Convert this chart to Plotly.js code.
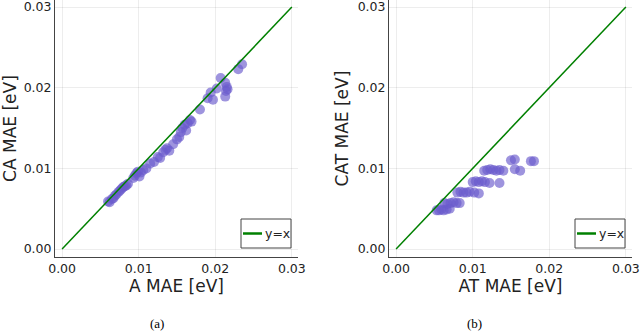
<!DOCTYPE html>
<html>
<head>
<meta charset="utf-8">
<script src="https://cdn.plot.ly/plotly-3.0.1.min.js"></script>
<style>
  html, body { margin: 0; padding: 0; background: #fff; }
  #chart { width: 640px; height: 333px; }
</style>
</head>
<body>
<div id="chart"></div>
<script>
// panel (a): A MAE vs CA MAE
const aX = [0.0060, 0.0062, 0.0065, 0.0067, 0.0069, 0.0071, 0.0074, 0.0076, 0.0078, 0.0080,
            0.0082, 0.0084, 0.0086, 0.0093, 0.0095, 0.0097, 0.0099, 0.0101, 0.0103, 0.0106,
            0.0110, 0.0115, 0.0120, 0.0125, 0.0128, 0.0132, 0.0135, 0.0137, 0.0140, 0.0145,
            0.0150, 0.0153, 0.0155, 0.0157, 0.0160, 0.0162, 0.0164, 0.0167, 0.0169, 0.0180,
            0.0190, 0.0194, 0.0197, 0.0202, 0.0207, 0.0213, 0.0215, 0.0214, 0.0216, 0.0213,
            0.0230, 0.0235];
const caY = [0.0059, 0.0058, 0.0062, 0.0063, 0.0066, 0.0068, 0.0071, 0.0073, 0.0075, 0.0077,
             0.0078, 0.0079, 0.0081, 0.0088, 0.0091, 0.0094, 0.0096, 0.0090, 0.0095, 0.0098,
             0.0100, 0.0106, 0.0108, 0.0114, 0.0113, 0.0120, 0.0123, 0.0125, 0.0122, 0.0130,
             0.0136, 0.0139, 0.0145, 0.0150, 0.0154, 0.0147, 0.0156, 0.0160, 0.0158, 0.0173,
             0.0187, 0.0194, 0.0185, 0.0199, 0.0212, 0.0206, 0.0201, 0.0196, 0.0198, 0.0189,
             0.0223, 0.0229];

// panel (b): AT MAE vs CAT MAE
const atX = [0.0053, 0.0056, 0.0059, 0.0062, 0.0066, 0.0070,
             0.0063, 0.0067, 0.0071, 0.0075, 0.0079, 0.0083,
             0.0080, 0.0084, 0.0088, 0.0092, 0.0096, 0.0102, 0.0108,
             0.0100, 0.0104, 0.0108, 0.0112, 0.0116, 0.0122, 0.0135,
             0.0115, 0.0119, 0.0123, 0.0127, 0.0131, 0.0135, 0.0140, 0.0155, 0.0162,
             0.0150, 0.0155, 0.0176, 0.0180];
const catY = [0.0048, 0.0048, 0.0049, 0.0048, 0.0049, 0.0050,
              0.0057, 0.0056, 0.0057, 0.0058, 0.0057, 0.0057,
              0.0070, 0.0071, 0.0070, 0.0070, 0.0071, 0.0070, 0.0069,
              0.0083, 0.0084, 0.0083, 0.0084, 0.0083, 0.0082, 0.0082,
              0.0097, 0.0098, 0.0099, 0.0098, 0.0097, 0.0098, 0.0097, 0.0099, 0.0097,
              0.0110, 0.0111, 0.0109, 0.0109];

const diag = [0, 0.03];
const tickVals = [0, 0.01, 0.02, 0.03];
const tickText = ['0.00', '0.01', '0.02', '0.03'];

const dotColor = 'rgba(106, 90, 205, 0.65)';
const lineColor = 'rgb(0, 128, 0)';

var data = [
    {x: aX, y: caY, type: 'scatter', mode: 'markers', xaxis: 'x', yaxis: 'y',
     marker: {size: 10, color: dotColor}, showlegend: false},
    {x: diag, y: diag, type: 'scatter', mode: 'lines', xaxis: 'x', yaxis: 'y',
     line: {color: lineColor, width: 1.5}, name: 'y=x', showlegend: false},
    {x: atX, y: catY, type: 'scatter', mode: 'markers', xaxis: 'x2', yaxis: 'y2',
     marker: {size: 10, color: dotColor}, showlegend: false},
    {x: diag, y: diag, type: 'scatter', mode: 'lines', xaxis: 'x2', yaxis: 'y2',
     line: {color: lineColor, width: 1.5}, name: 'y=x', showlegend: false}
];

const tickFont = {family: 'DejaVu Sans', size: 12.5, color: '#222'};
const titleFont = {family: 'DejaVu Sans', size: 17, color: '#222'};

function xAxis(title, dom, anchor) {
    return {
        domain: dom, anchor: anchor,
        range: [-0.00093, 0.0308],
        tickvals: tickVals, ticktext: tickText,
        tickfont: tickFont, ticklabeloverflow: 'allow',
        title: {text: title, font: titleFont, standoff: 2},
        showline: true, linecolor: '#444', linewidth: 1,
        showgrid: true, gridcolor: 'rgba(0,0,0,0.07)', gridwidth: 1,
        zeroline: false, ticks: '', automargin: false
    };
}

function yAxis(title, anchor) {
    return {
        domain: [0.228, 1], anchor: anchor,
        range: [-0.00099, 0.03087],
        tickvals: tickVals, ticktext: tickText,
        tickfont: tickFont, ticklabeloverflow: 'allow',
        title: {text: title, font: titleFont, standoff: 4},
        showline: true, linecolor: '#444', linewidth: 1,
        showgrid: true, gridcolor: 'rgba(0,0,0,0.07)', gridwidth: 1,
        zeroline: false, ticks: '', automargin: false
    };
}

// small framed "y=x" legend box, in paper units
function legendBox(x0) {
    const w = 50 / 640, h = 29 / 333, y0 = 85 / 333;
    return [
        {type: 'rect', xref: 'paper', yref: 'paper', x0: x0, x1: x0 + w, y0: y0, y1: y0 + h,
         fillcolor: '#fff', line: {color: '#444', width: 1}, layer: 'above'},
        {type: 'line', xref: 'paper', yref: 'paper', x0: x0 + 2 / 640, x1: x0 + 21 / 640,
         y0: y0 + h / 2, y1: y0 + h / 2, line: {color: lineColor, width: 2.5}, layer: 'above'}
    ];
}

function legendText(x0) {
    return {text: 'y=x', xref: 'paper', yref: 'paper', x: x0 + 22 / 640, y: (85 + 14.5) / 333,
            xanchor: 'left', yanchor: 'middle', showarrow: false,
            font: {family: 'DejaVu Sans', size: 12.5, color: '#222'}};
}

const captionFont = {family: 'Liberation Serif', size: 13, color: '#000'};

var layout = {
    width: 640, height: 333,
    margin: {l: 0, r: 0, t: 0, b: 0},
    paper_bgcolor: '#fff', plot_bgcolor: '#fff',
    showlegend: false,
    xaxis: xAxis('A MAE [eV]', [0.0859, 0.4656], 'y'),
    yaxis: yAxis('CA MAE [eV]', 'x'),
    xaxis2: xAxis('AT MAE [eV]', [0.6078, 0.9875], 'y2'),
    yaxis2: yAxis('CAT MAE [eV]', 'x2'),
    shapes: legendBox(241 / 640).concat(legendBox(575 / 640)),
    annotations: [
        legendText(241 / 640),
        legendText(575 / 640),
        {text: '(a)', xref: 'paper', yref: 'paper', x: 0.232, y: 0.0, yanchor: 'bottom',
         showarrow: false, font: captionFont},
        {text: '(b)', xref: 'paper', yref: 'paper', x: 0.757, y: 0.0, yanchor: 'bottom',
         showarrow: false, font: captionFont}
    ]
};

Plotly.newPlot('chart', data, layout, {displayModeBar: false, staticPlot: true});
</script>
</body>
</html>
